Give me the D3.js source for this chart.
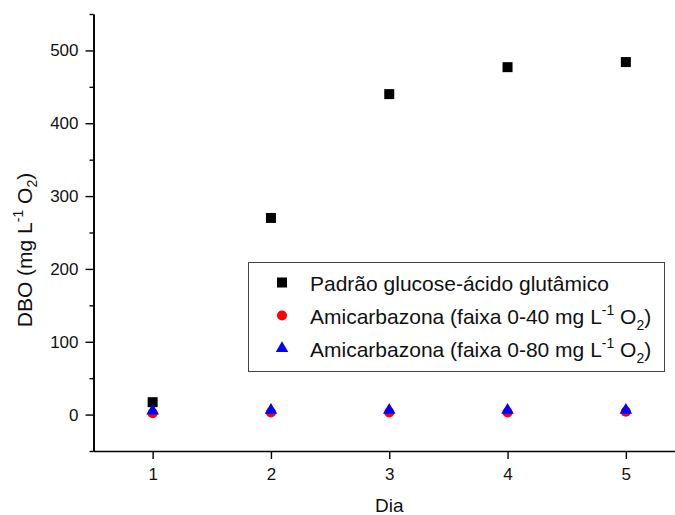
<!DOCTYPE html>
<html>
<head>
<meta charset="utf-8">
<script src="https://cdn.jsdelivr.net/npm/d3@7"></script>
<style>
  body { margin: 0; background: #fff; }
  svg { display: block; font-family: "Liberation Sans", Arial, sans-serif; }
</style>
</head>
<body>
<svg id="chart" width="675" height="515"></svg>
<script>
// DBO per day, three series
const days = [1, 2, 3, 4, 5];
const padrao = [17, 270, 440, 477, 484];
const faixa40 = [2, 3, 3, 3, 4];
const faixa80 = [5, 6, 6, 6, 6];

const xTicks = [1, 2, 3, 4, 5];
const yTicks = [0, 100, 200, 300, 400, 500];
const yMinorTicks = [-50, 50, 150, 250, 350, 450, 550];

const svg = d3.select('#chart');

const x = d3.scaleLinear().domain([0.5, 5.5]).range([93.5, 685]);
const y = d3.scaleLinear().domain([-50, 550]).range([451, 14]);

// axes
svg.append('g')
    .attr('transform', `translate(${x(0.5)},0)`)
    .call(d3.axisLeft(y).tickValues(yTicks).tickSize(8).tickPadding(7).tickSizeOuter(0));
svg.append('g')
    .attr('transform', `translate(${x(0.5)},0)`)
    .call(d3.axisLeft(y).tickValues(yMinorTicks).tickSize(4).tickFormat('').tickSizeOuter(0));

svg.append('g')
    .attr('transform', `translate(0,${y(-50)})`)
    .call(d3.axisBottom(x).tickValues(xTicks).tickFormat(d3.format('d'))
        .tickSize(8).tickPadding(9).tickSizeOuter(0));

svg.selectAll('.domain').attr('stroke', '#000').attr('stroke-width', 1.6);
svg.selectAll('.tick line').attr('stroke', '#000').attr('stroke-width', 1.4);
svg.selectAll('.tick text')
    .attr('fill', '#111')
    .attr('font-size', '17px')
    .attr('font-family', '"Liberation Sans", Arial, sans-serif');

// axis titles
svg.append('text')
    .attr('x', (x(0.5) + x(5.5)) / 2)
    .attr('y', 512)
    .attr('text-anchor', 'middle')
    .attr('font-size', '19px')
    .attr('fill', '#111')
    .text('Dia');

const yTitle = svg.append('text')
    .attr('transform', 'translate(32,250) rotate(-90)')
    .attr('text-anchor', 'middle')
    .attr('font-size', '21px')
    .attr('fill', '#111');
yTitle.append('tspan').text('DBO (mg L');
yTitle.append('tspan').attr('font-size', '14px').attr('dy', -9).text('-1');
yTitle.append('tspan').attr('dy', 9).text(' O');
yTitle.append('tspan').attr('font-size', '14px').attr('dy', 5).text('2');
yTitle.append('tspan').attr('dy', -5).text(')');

// markers
const square = d3.symbol().type(d3.symbolSquare).size(100);
const circle = d3.symbol().type(d3.symbolCircle).size(80);
const triangle = d3.symbol().type(d3.symbolTriangle).size(68);

const series = [
    { name: 'padrao', values: padrao, sym: square, color: '#000000' },
    { name: 'faixa40', values: faixa40, sym: circle, color: '#ff0000' },
    { name: 'faixa80', values: faixa80, sym: triangle, color: '#0000ff' }
];

series.forEach(s => {
    svg.append('g')
        .selectAll('path')
        .data(days)
        .enter()
        .append('path')
        .attr('d', s.sym)
        .attr('fill', s.color)
        .attr('transform', (d, i) => `translate(${x(d)},${y(s.values[i])})`);
});

// legend
const legend = svg.append('g');
legend.append('rect')
    .attr('x', 248.5).attr('y', 262.5)
    .attr('width', 416).attr('height', 109)
    .attr('fill', '#fff')
    .attr('stroke', '#444')
    .attr('stroke-width', 1);

const rows = [
    { sym: square, color: '#000000', base: 290.5, text: ['Padrão glucose-ácido glutâmico'] },
    { sym: circle, color: '#ff0000', base: 323.5, text: ['Amicarbazona (faixa 0-40 mg L', '-1', ' O', '2', ')'] },
    { sym: triangle, color: '#0000ff', base: 356.5, text: ['Amicarbazona (faixa 0-80 mg L', '-1', ' O', '2', ')'] }
];

rows.forEach(r => {
    legend.append('path')
        .attr('d', r.sym)
        .attr('fill', r.color)
        .attr('transform', `translate(282,${r.base - 8})`);
    const t = legend.append('text')
        .attr('x', 310)
        .attr('y', r.base)
        .attr('font-size', '21px')
        .attr('fill', '#111');
    t.append('tspan').text(r.text[0]);
    if (r.text.length > 1) {
        t.append('tspan').attr('font-size', '14px').attr('dy', -9).text(r.text[1]);
        t.append('tspan').attr('dy', 9).text(r.text[2]);
        t.append('tspan').attr('font-size', '14px').attr('dy', 6).text(r.text[3]);
        t.append('tspan').attr('dy', -6).text(r.text[4]);
    }
});
</script>
</body>
</html>
